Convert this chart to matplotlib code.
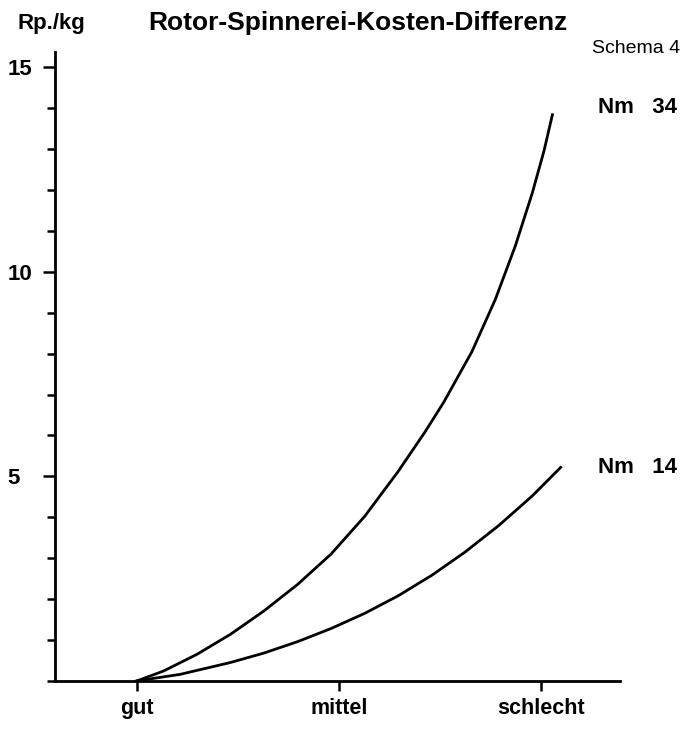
import numpy as np
import matplotlib
matplotlib.use("Agg")
import matplotlib.pyplot as plt
from matplotlib.ticker import MultipleLocator

plt.rcParams['font.family'] = ['Liberation Sans', 'DejaVu Sans']

# quality categories on the x axis (gut=0, mittel=1, schlecht=2)
categories = ["gut", "mittel", "schlecht"]

# curve points
nm34_x = [0.0, 0.131, 0.297, 0.463, 0.628, 0.795, 0.960, 1.126, 1.292, 1.424,
          1.516, 1.657, 1.773, 1.872, 1.955, 2.013, 2.055]
nm34_y = [0.0, 0.24, 0.65, 1.14, 1.71, 2.36, 3.10, 4.02, 5.12, 6.08,
          6.80, 8.05, 9.33, 10.64, 11.92, 12.95, 13.84]

nm14_x = [0.0, 0.214, 0.463, 0.628, 0.795, 0.960, 1.126, 1.292, 1.458, 1.623,
          1.790, 1.955, 2.096]
nm14_y = [0.0, 0.16, 0.45, 0.68, 0.96, 1.28, 1.65, 2.08, 2.58, 3.15,
          3.80, 4.52, 5.22]

y_major = [5, 10, 15]

fig = plt.figure(figsize=(6.86, 7.29), dpi=100)
ax = fig.add_axes([0.080, 0.066, 0.824, 0.863])

ax.plot(nm34_x, nm34_y, color='black', lw=2.0, solid_joinstyle='round')
ax.plot(nm14_x, nm14_y, color='black', lw=2.0, solid_joinstyle='round')

ax.set_xlim(-0.406, 2.39)
ax.set_ylim(0, 15.38)

for side in ('top', 'right'):
    ax.spines[side].set_visible(False)
for side in ('left', 'bottom'):
    ax.spines[side].set_linewidth(2.0)

ax.set_xticks(range(len(categories)))
ax.set_xticklabels(categories, fontsize=15.5, fontweight='bold')
ax.tick_params(axis='x', direction='out', length=7, width=1.8, pad=5)

ax.set_yticks(y_major)
ax.set_yticklabels([str(v) for v in y_major], fontsize=16, fontweight='bold')
ax.yaxis.set_minor_locator(MultipleLocator(1))
ax.tick_params(axis='y', which='major', direction='out', length=9, width=1.8, pad=25)
ax.tick_params(axis='y', which='minor', direction='out', length=6, width=1.8)
for lab in ax.get_yticklabels():
    lab.set_horizontalalignment('left')

fig.text(0.026, 0.968, "Rp./kg", fontsize=16, fontweight='bold', va='center', ha='left')
fig.text(0.216, 0.968, "Rotor-Spinnerei-Kosten-Differenz", fontsize=19, fontweight='bold',
         va='center', ha='left')
fig.text(0.991, 0.934, "Schema 4", fontsize=14, va='center', ha='right')

fig.text(0.872, 0.852, "Nm   34", fontsize=16, fontweight='bold', va='center', ha='left')
fig.text(0.872, 0.359, "Nm   14", fontsize=16, fontweight='bold', va='center', ha='left')

fig.savefig("out.png", dpi=100)
